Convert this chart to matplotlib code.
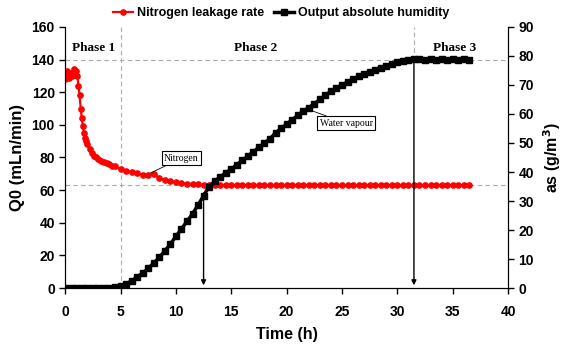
import matplotlib.pyplot as plt
import numpy as np

plt.rcParams['font.family'] = ['Liberation Sans', 'DejaVu Sans']

# Nitrogen leakage rate (left axis, mLn/min)
t_n2 = [0.0, 0.1, 0.2, 0.3, 0.4, 0.5, 0.6, 0.7, 0.8, 0.9, 1.0, 1.1, 1.2, 1.3, 1.4,
        1.5, 1.6, 1.7, 1.8, 1.9, 2.0, 2.2, 2.4, 2.6, 2.8, 3.0, 3.25, 3.5, 3.75, 4.0,
        4.25, 4.5, 5.0, 5.5, 6.0, 6.5, 7.0, 7.5, 8.0, 8.5, 9.0, 9.5, 10.0, 10.5, 11.0,
        11.5, 12.0, 12.5, 13.0, 13.5, 14.0, 14.5, 15.0, 15.5, 16.0, 16.5, 17.0, 17.5,
        18.0, 18.5, 19.0, 19.5, 20.0, 20.5, 21.0, 21.5, 22.0, 22.5, 23.0, 23.5, 24.0,
        24.5, 25.0, 25.5, 26.0, 26.5, 27.0, 27.5, 28.0, 28.5, 29.0, 29.5, 30.0, 30.5,
        31.0, 31.5, 32.0, 32.5, 33.0, 33.5, 34.0, 34.5, 35.0, 35.5, 36.0, 36.5]
q_n2 = [128, 131, 133, 129, 131, 132, 130, 132, 134, 131, 133, 130, 124, 118, 110,
        104, 99, 95, 92, 90, 88, 85, 83, 81, 80, 79, 78, 77, 76.5, 76,
        75, 74.5, 73, 72, 71, 70.5, 69.5, 69, 70, 67.5, 66, 65.5, 65, 64.5, 64,
        63.8, 63.5, 63.3, 63.2, 63.0, 63.1, 62.9, 63.0, 63.1, 63.0, 62.9, 63.0, 63.1,
        63.0, 62.9, 63.0, 63.1, 63.0, 62.9, 63.0, 63.1, 63.0, 62.9, 63.0, 63.1, 63.0,
        62.9, 63.0, 63.1, 63.0, 62.9, 63.0, 63.1, 63.0, 62.9, 63.0, 63.1, 63.0, 62.9,
        63.0, 63.1, 63.0, 62.9, 63.0, 63.1, 63.0, 62.9, 63.0, 63.1, 63.0, 62.9]

# Output absolute humidity (right axis, g/m3)
t_hum = [0.0, 0.5, 1.0, 1.5, 2.0, 2.5, 3.0, 3.5, 4.0, 4.5, 5.0, 5.5, 6.0, 6.5, 7.0,
         7.5, 8.0, 8.5, 9.0, 9.5, 10.0, 10.5, 11.0, 11.5, 12.0, 12.5, 13.0, 13.5, 14.0,
         14.5, 15.0, 15.5, 16.0, 16.5, 17.0, 17.5, 18.0, 18.5, 19.0, 19.5, 20.0, 20.5,
         21.0, 21.5, 22.0, 22.5, 23.0, 23.5, 24.0, 24.5, 25.0, 25.5, 26.0, 26.5, 27.0,
         27.5, 28.0, 28.5, 29.0, 29.5, 30.0, 30.5, 31.0, 31.5, 32.0, 32.5, 33.0, 33.5,
         34.0, 34.5, 35.0, 35.5, 36.0, 36.5]
a_hum = [0, 0, 0, 0, 0, 0, 0, 0, 0, 0.2, 0.6, 1.4, 2.5, 3.8, 5.2,
         6.8, 8.6, 10.6, 12.8, 15.2, 17.8, 20.4, 23.0, 25.6, 28.6, 31.8, 35.0, 36.8, 38.3,
         39.7, 41.0, 42.5, 44.0, 45.5, 47.0, 48.5, 50.0, 51.5, 53.5, 55.0, 56.5, 58.0,
         59.5, 61.0, 62.2, 63.5, 65.0, 66.5, 67.8, 69.0, 70.0, 71.0, 72.0, 73.0, 73.8,
         74.5, 75.3, 76.0, 76.7, 77.3, 77.8, 78.2, 78.6, 79.0, 78.8, 78.6, 78.9, 78.5,
         78.8, 78.6, 78.9, 78.6, 78.8, 78.7]

fig = plt.figure(figsize=(5.62, 3.45), dpi=100)
ax = fig.add_axes([0.116, 0.165, 0.788, 0.757])
ax2 = ax.twinx()

# reference lines
ax.axvline(5, color='#aaaaaa', ls=(0, (4, 3)), lw=0.8, zorder=0)
ax.axvline(31.5, ymin=140 / 160, color='#aaaaaa', ls=(0, (4, 3)), lw=0.8, zorder=0)
ax.axhline(140, color='#aaaaaa', ls=(0, (4, 3)), lw=0.8, zorder=0)
ax.axhline(63, color='#aaaaaa', ls=(0, (4, 3)), lw=0.8, zorder=0)

l1, = ax.plot(t_n2, q_n2, color='red', marker='o', ms=3.8, lw=1.6, label='Nitrogen leakage rate')
l2, = ax2.plot(t_hum, a_hum, color='black', marker='s', ms=4.3, lw=2.5, label='Output absolute humidity')

# arrows
ax.annotate('', xy=(12.5, 0), xytext=(12.5, 60),
            arrowprops=dict(arrowstyle='-|>', color='black', lw=1, mutation_scale=7))
ax.annotate('', xy=(31.5, 0), xytext=(31.5, 140),
            arrowprops=dict(arrowstyle='-|>', color='black', lw=1, mutation_scale=7))

# labels in plot
for x, s in [(2.6, 'Phase 1'), (17.2, 'Phase 2'), (35.2, 'Phase 3')]:
    ax.text(x, 147, s, family='Liberation Serif', weight='bold', fontsize=9.5,
            ha='center', va='center')

box = dict(boxstyle='square,pad=0.25', fc='white', ec='black', lw=0.8)
ax.annotate('Nitrogen', xy=(7.7, 70.5), xytext=(10.5, 79.5), family='Liberation Serif',
            fontsize=7, ha='center', va='center', bbox=box,
            arrowprops=dict(arrowstyle='-', color='black', lw=0.6, shrinkA=0, shrinkB=0))
ax2.annotate('Water vapour', xy=(22.0, 61.5), xytext=(25.4, 56.8), family='Liberation Serif',
             fontsize=7, ha='center', va='center', bbox=box,
             arrowprops=dict(arrowstyle='-', color='black', lw=0.6, shrinkA=0, shrinkB=0))

ax.set_xlim(0, 40)
ax.set_ylim(0, 160)
ax2.set_ylim(0, 90)
ax.set_xticks(np.arange(0, 41, 5))
ax.set_yticks(np.arange(0, 161, 20))
ax2.set_yticks(np.arange(0, 91, 10))

for a in (ax, ax2):
    a.spines['top'].set_visible(False)
    a.tick_params(labelsize=10, width=1, length=4, direction='out')
    for lab in a.get_xticklabels() + a.get_yticklabels():
        lab.set_fontweight('bold')
ax.tick_params(axis='x', pad=8)

ax.set_xlabel('Time (h)', fontsize=11.5, weight='bold', labelpad=6)
ax.set_ylabel('Q0 (mLn/min)', fontsize=12, weight='bold', labelpad=5)
ax2.set_ylabel('as (g/m$^\\mathbf{3}$)', fontsize=11.5, weight='bold', labelpad=5)

fig.legend(handles=[l1, l2], loc='center', bbox_to_anchor=(0.5, 0.962), ncol=2,
           frameon=False, prop={'weight': 'bold', 'size': 9}, handlelength=1.6,
           handletextpad=0.3, columnspacing=0.8, borderaxespad=0)

fig.savefig('out.png', dpi=100)
